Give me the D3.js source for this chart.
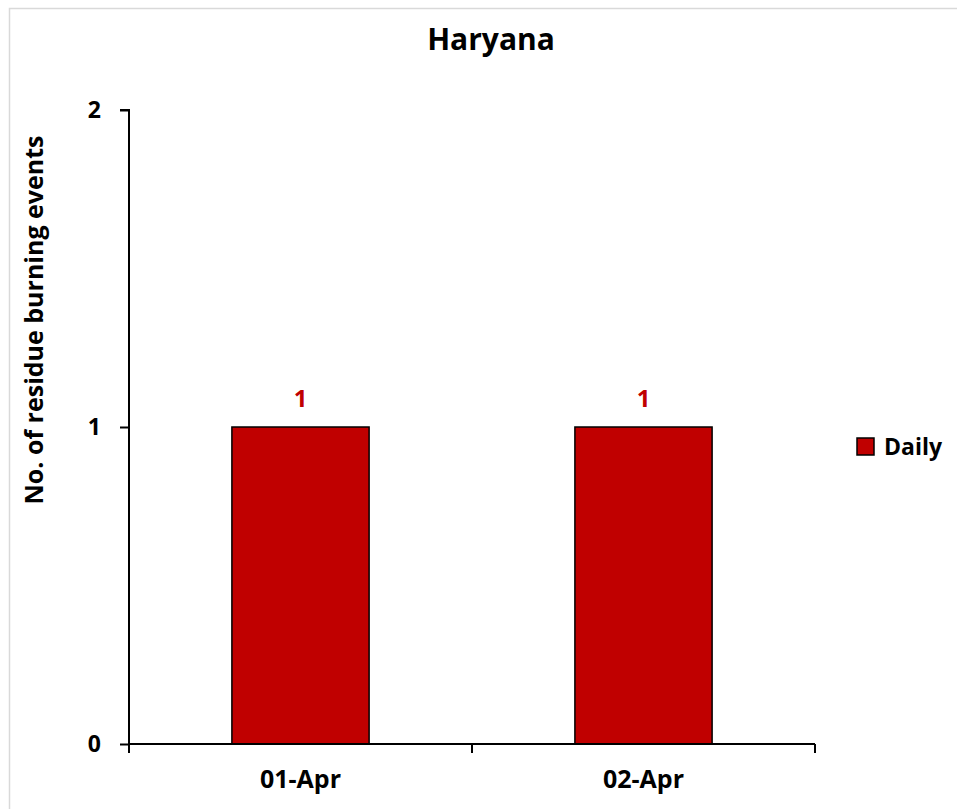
<!DOCTYPE html>
<html>
<head>
<meta charset="utf-8">
<script src="https://cdn.jsdelivr.net/npm/d3@7"></script>
<style>
  body { margin: 0; background: #fff; }
  text { font-family: "Open Sans", "Liberation Sans", sans-serif; font-weight: bold; }
</style>
</head>
<body>
<script>
// chart data
var title = "Haryana";
var categories = ["01-Apr", "02-Apr"];
var dailyValues = [1, 1];
var yTicks = [0, 1, 2];
var yLabel = "No. of residue burning events";
var seriesName = "Daily";

var width = 957;
var height = 809;
var barColor = "#C00000";

var svg = d3.select("body").append("svg")
  .attr("width", width)
  .attr("height", height);

// chart border
svg.append("rect")
  .attr("x", 9.5).attr("y", 8.5)
  .attr("width", width).attr("height", height)
  .attr("fill", "#fff")
  .attr("stroke", "#d9d9d9")
  .attr("stroke-width", 1.5);

var x = d3.scaleBand().domain(categories).range([129, 815])
  .paddingInner(0.6).paddingOuter(0.3);
var y = d3.scaleLinear().domain([0, 2]).range([744, 110]);

// title
svg.append("text")
  .attr("x", 491).attr("y", 50)
  .attr("text-anchor", "middle")
  .style("font-size", "30px")
  .text(title);

// y axis label
svg.append("text")
  .attr("transform", "translate(43,320) rotate(-90)")
  .attr("text-anchor", "middle")
  .style("font-size", "25px")
  .text(yLabel);

// bars
svg.selectAll("rect.bar").data(dailyValues).enter().append("rect")
  .attr("class", "bar")
  .attr("x", function(d, i) { return x(categories[i]); })
  .attr("y", function(d) { return y(d); })
  .attr("width", x.bandwidth())
  .attr("height", function(d) { return y(0) - y(d); })
  .attr("fill", barColor)
  .attr("stroke", "#000")
  .attr("stroke-width", 1.5);

// data labels
svg.selectAll("text.lbl").data(dailyValues).enter().append("text")
  .attr("class", "lbl")
  .attr("x", function(d, i) { return x(categories[i]) + x.bandwidth() / 2; })
  .attr("y", function(d) { return y(d) - 20; })
  .attr("text-anchor", "middle")
  .attr("fill", barColor)
  .style("font-size", "24px")
  .text(function(d) { return d; });

// y axis
var yAxis = d3.axisLeft(y).tickValues(yTicks).tickSize(9).tickPadding(19)
  .tickFormat(d3.format("d"));
var gy = svg.append("g").attr("transform", "translate(129,0)").call(yAxis);
gy.select(".domain").attr("stroke-width", 2).attr("d", "M-9,110H0V744");
gy.selectAll(".tick line").attr("stroke-width", 2);
gy.selectAll(".tick text").style("font-size", "23px").attr("fill", "#000");

// x axis
var xAxis = d3.axisBottom(x).tickSize(0).tickPadding(26);
var gx = svg.append("g").attr("transform", "translate(0,744)").call(xAxis);
gx.select(".domain").attr("stroke-width", 2).attr("d", "M129,0H815");
gx.selectAll(".tick text").style("font-size", "25px").attr("fill", "#000");

// category boundary ticks
var bounds = d3.range(categories.length + 1).map(function(i) { return x.range()[0] + i * x.step(); });
gx.selectAll("line.bound").data(bounds).enter().append("line")
  .attr("class", "bound")
  .attr("x1", function(d) { return d; }).attr("x2", function(d) { return d; })
  .attr("y1", 0).attr("y2", 9)
  .attr("stroke", "#000").attr("stroke-width", 2);

// legend
var lg = svg.append("g").attr("transform", "translate(857,438)");
lg.append("rect").attr("width", 17).attr("height", 17)
  .attr("fill", barColor).attr("stroke", "#000").attr("stroke-width", 1.5);
lg.append("text").attr("x", 27).attr("y", 17)
  .style("font-size", "23px")
  .text(seriesName);
</script>
</body>
</html>
